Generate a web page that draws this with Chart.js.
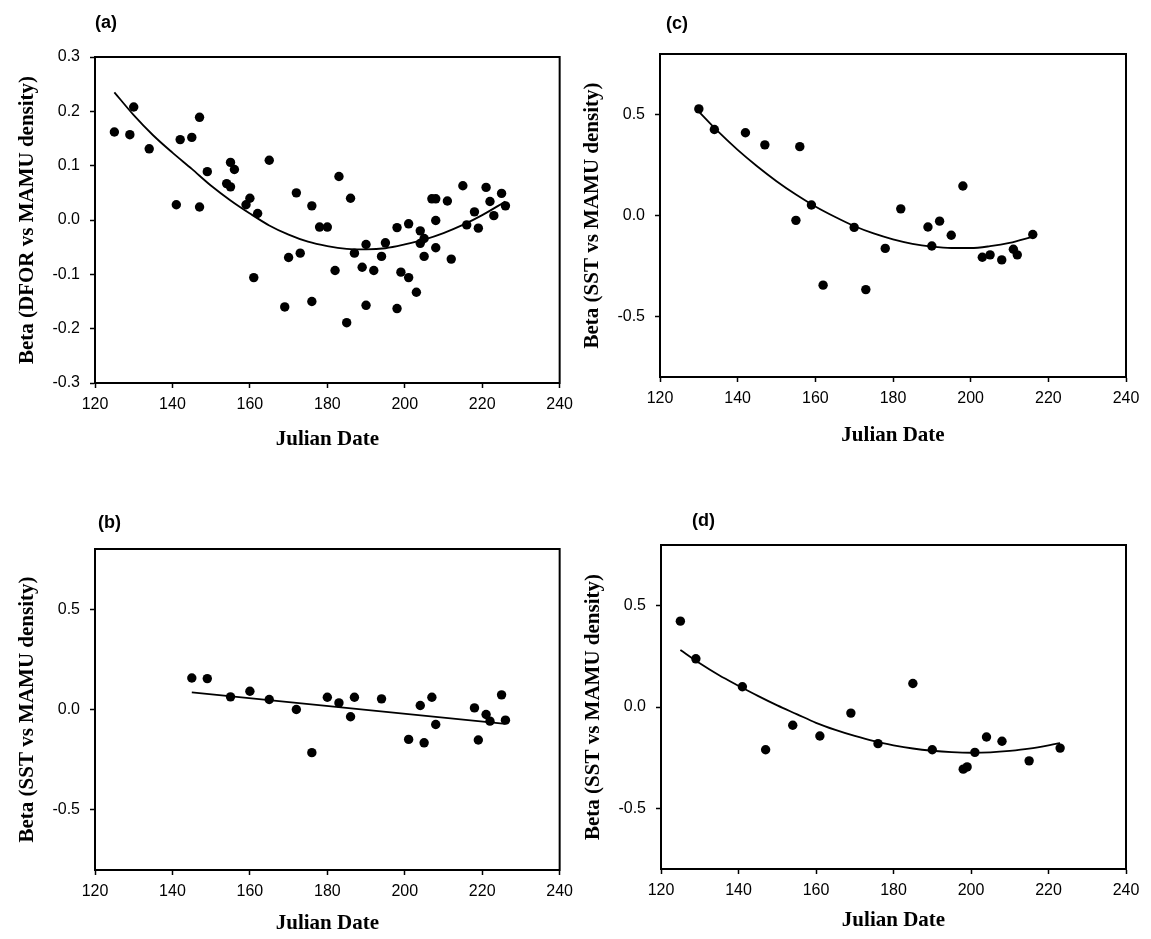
<!DOCTYPE html>
<html>
<head>
<meta charset="utf-8">
<script src="https://cdn.jsdelivr.net/npm/chart.js@4.4.0/dist/chart.umd.min.js"></script>
<style>
  body { margin: 0; background: #fff; }
  #page { position: relative; width: 1151px; height: 939px; overflow: hidden; background: #fff; }
  .panel { position: absolute; }
  .tag { position: absolute; font: bold 18px "Liberation Sans", Arial, sans-serif; line-height: 20px; color: #000; }
</style>
</head>
<body>
<div id="page">
  <div class="panel" style="left:0px;top:0px;width:580px;height:470px"><canvas id="chartA"></canvas></div>
  <div class="panel" style="left:580px;top:0px;width:571px;height:470px"><canvas id="chartC"></canvas></div>
  <div class="panel" style="left:0px;top:470px;width:580px;height:469px"><canvas id="chartB"></canvas></div>
  <div class="panel" style="left:580px;top:470px;width:571px;height:469px"><canvas id="chartD"></canvas></div>
  <div class="tag" style="left:95px;top:12px">(a)</div>
  <div class="tag" style="left:666px;top:13px">(c)</div>
  <div class="tag" style="left:98px;top:512px">(b)</div>
  <div class="tag" style="left:692px;top:510px">(d)</div>
</div>
<script>
// axis ticks
const xTicks = [120, 140, 160, 180, 200, 220, 240];
const yTicksDfor = [-0.3, -0.2, -0.1, 0.0, 0.1, 0.2, 0.3];
const yTicksSst = [-0.5, 0.0, 0.5];

// (a) DFOR vs MAMU density
const dateA = [125, 129, 130, 134, 141, 142, 145, 147, 147, 149, 154, 155, 155, 156, 159, 160, 162, 161,
  165, 169, 170, 172, 173, 176, 176, 178, 180, 182, 183, 185, 186, 187, 189, 190, 190, 192, 194, 195,
  198, 198, 199, 201, 201, 203, 204, 204, 205, 205, 207, 208, 208, 208, 211, 212, 215, 216, 218, 219,
  221, 222, 223, 225, 226];
const betaA = [0.162, 0.157, 0.208, 0.131, 0.028, 0.148, 0.152, 0.189, 0.024, 0.089, 0.067, 0.106, 0.061,
  0.093, 0.028, 0.040, 0.012, -0.106, 0.110, -0.160, -0.069, 0.050, -0.061, 0.026, -0.150, -0.013, -0.013,
  -0.093, 0.080, -0.189, 0.040, -0.061, -0.087, -0.045, -0.157, -0.093, -0.067, -0.042, -0.014, -0.163,
  -0.096, -0.007, -0.106, -0.133, -0.020, -0.043, -0.067, -0.034, 0.039, 0.039, -0.001, -0.051, 0.035,
  -0.072, 0.063, -0.009, 0.015, -0.015, 0.060, 0.034, 0.008, 0.049, 0.026];
const fitDateA = [125, 130, 135, 140, 145, 150, 155, 160, 165, 170, 175, 180, 185, 190, 195, 200, 205, 210, 215, 220, 226];
const fitBetaA = [0.235, 0.193, 0.156, 0.124, 0.094, 0.063, 0.036, 0.012, -0.010, -0.027, -0.040, -0.048,
  -0.053, -0.054, -0.052, -0.045, -0.036, -0.024, -0.009, 0.009, 0.034];

// (b) SST vs MAMU density
const dateB = [145, 149, 155, 160, 165, 172, 176, 180, 183, 186, 187, 194, 201, 204, 205, 207, 208, 218, 219, 221, 222, 225, 226];
const betaB = [0.157, 0.154, 0.063, 0.091, 0.050, 0.000, -0.215, 0.061, 0.033, -0.036, 0.061, 0.053, -0.149,
  0.020, -0.166, 0.061, -0.075, 0.008, -0.152, -0.025, -0.058, 0.073, -0.053];
const fitDateB = [145, 226];
const fitBetaB = [0.085, -0.072];

// (c) SST vs MAMU density
const dateC = [130, 134, 142, 147, 155, 156, 159, 162, 170, 173, 178, 182, 189, 190, 192, 195, 198, 203, 205, 208, 211, 212, 216];
const betaC = [0.528, 0.426, 0.410, 0.350, -0.024, 0.341, 0.052, -0.345, -0.059, -0.367, -0.163, 0.033, -0.057,
  -0.151, -0.028, -0.098, 0.146, -0.207, -0.195, -0.220, -0.167, -0.195, -0.094];
const fitDateC = [130, 135, 140, 145, 150, 155, 160, 165, 170, 175, 180, 185, 190, 195, 200, 205, 210, 216];
const fitBetaC = [0.515, 0.415, 0.325, 0.244, 0.170, 0.104, 0.045, -0.006, -0.052, -0.089, -0.118, -0.140,
  -0.154, -0.161, -0.161, -0.152, -0.136, -0.105];

// (d) SST vs MAMU density
const dateD = [125, 129, 141, 147, 154, 161, 169, 176, 185, 190, 198, 199, 201, 204, 208, 215, 223];
const betaD = [0.424, 0.238, 0.100, -0.211, -0.090, -0.143, -0.030, -0.181, 0.116, -0.211, -0.307, -0.296,
  -0.224, -0.148, -0.169, -0.266, -0.203];
const fitDateD = [125, 130, 135, 140, 145, 150, 155, 160, 165, 170, 175, 180, 185, 190, 195, 200, 205, 210, 215, 223];
const fitBetaD = [0.282, 0.216, 0.157, 0.105, 0.055, 0.008, -0.035, -0.078, -0.113, -0.143, -0.169, -0.189,
  -0.205, -0.216, -0.223, -0.226, -0.224, -0.217, -0.206, -0.178];

const tickFont = { family: '"Liberation Sans", Arial, sans-serif', size: 16 };
const titleFont = { family: '"Liberation Serif", "Times New Roman", serif', size: 21, weight: 'bold', lineHeight: 1.2 };

function pairs(xs, ys) {
  return xs.map((x, i) => ({ x: x, y: ys[i] }));
}

// closed box round the plot area
const frame = {
  id: 'frame',
  afterDatasetsDraw(chart) {
    const a = chart.chartArea;
    const ctx = chart.ctx;
    ctx.save();
    ctx.strokeStyle = '#000';
    ctx.lineWidth = 2;
    ctx.strokeRect(a.left, a.top, a.right - a.left, a.bottom - a.top);
    ctx.restore();
  }
};

function drawPanel(id, p) {
  new Chart(document.getElementById(id), {
    type: 'scatter',
    data: {
      datasets: [
        {
          type: 'line',
          data: pairs(p.fitX, p.fitY),
          borderColor: '#000',
          borderWidth: 1.8,
          pointRadius: 0,
          fill: false,
          cubicInterpolationMode: 'monotone'
        },
        {
          data: pairs(p.x, p.y),
          pointRadius: 4.7,
          pointBackgroundColor: '#000',
          pointBorderWidth: 0,
          backgroundColor: '#000'
        }
      ]
    },
    plugins: [frame],
    options: {
      responsive: true,
      maintainAspectRatio: false,
      animation: false,
      events: [],
      layout: { padding: p.pad },
      plugins: { legend: { display: false }, tooltip: { enabled: false } },
      scales: {
        x: {
          type: 'linear', min: 120, max: 240,
          afterBuildTicks: s => { s.ticks = xTicks.map(v => ({ value: v })); },
          afterFit: s => { s.height = p.xAxisH; },
          grid: { drawOnChartArea: false, drawTicks: true, tickLength: 5, color: '#000', tickWidth: 1.5 },
          border: { display: true, color: '#000', width: 2 },
          ticks: { color: '#000', font: tickFont, padding: 7, maxRotation: 0, autoSkip: false },
          title: { display: true, text: 'Julian Date', color: '#000', font: titleFont, padding: 0 }
        },
        y: {
          type: 'linear', min: p.yMin, max: p.yMax,
          afterBuildTicks: s => { s.ticks = p.yTicks.map(v => ({ value: v })); },
          afterFit: s => { s.width = p.yAxisW; },
          grid: { drawOnChartArea: false, drawTicks: true, tickLength: 5, color: '#000', tickWidth: 1.5 },
          border: { display: true, color: '#000', width: 2 },
          ticks: { color: '#000', font: tickFont, padding: 10, autoSkip: false, callback: v => v.toFixed(1) },
          title: { display: true, text: p.yTitle, color: '#000', font: titleFont, padding: { top: p.yTitlePad, bottom: 0 } }
        }
      }
    }
  });
}

drawPanel('chartA', {
  x: dateA, y: betaA, fitX: fitDateA, fitY: fitBetaA,
  yMin: -0.3, yMax: 0.3, yTicks: yTicksDfor,
  yTitle: 'Beta (DFOR vs MAMU density)', yTitlePad: 15.4,
  yAxisW: 95, xAxisH: 69.6,
  pad: { left: 0, top: 57, right: 20, bottom: 17.4 }
});

drawPanel('chartC', {
  x: dateC, y: betaC, fitX: fitDateC, fitY: fitBetaC,
  yMin: -0.8, yMax: 0.8, yTicks: yTicksSst,
  yTitle: 'Beta (SST vs MAMU density)', yTitlePad: 0.4,
  yAxisW: 80, xAxisH: 71.6,
  pad: { left: 0, top: 54, right: 25, bottom: 21.4 }
});

drawPanel('chartB', {
  x: dateB, y: betaB, fitX: fitDateB, fitY: fitBetaB,
  yMin: -0.8, yMax: 0.8, yTicks: yTicksSst,
  yTitle: 'Beta (SST vs MAMU density)', yTitlePad: 15.4,
  yAxisW: 95, xAxisH: 66.6,
  pad: { left: 0, top: 79, right: 20, bottom: 2.4 }
});

drawPanel('chartD', {
  x: dateD, y: betaD, fitX: fitDateD, fitY: fitBetaD,
  yMin: -0.8, yMax: 0.8, yTicks: yTicksSst,
  yTitle: 'Beta (SST vs MAMU density)', yTitlePad: 1.4,
  yAxisW: 81, xAxisH: 64.6,
  pad: { left: 0, top: 75, right: 25, bottom: 5.4 }
});
</script>
</body>
</html>
